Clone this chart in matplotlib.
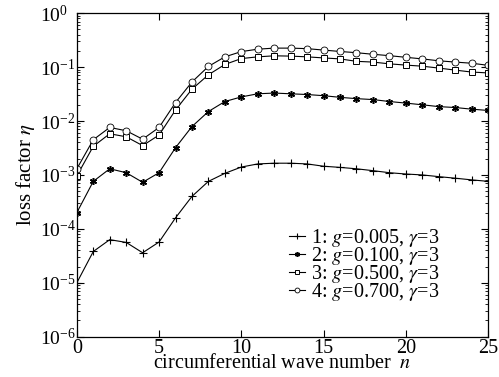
import numpy as np
import matplotlib
matplotlib.use('Agg')
import matplotlib.pyplot as plt
from matplotlib.ticker import LogLocator, NullFormatter, MultipleLocator

plt.rcParams['font.family'] = ['Liberation Serif', 'DejaVu Serif']
plt.rcParams['mathtext.fontset'] = 'stix'

# circumferential wave number
n = list(range(26))

# loss factor for each g (gamma = 3)
eta_g0005 = [1.0e-5, 3.8e-5, 6.3e-5, 5.6e-5, 3.6e-5, 5.7e-5, 1.6e-4, 4.0e-4, 7.6e-4, 1.07e-3,
             1.4e-3, 1.6e-3, 1.65e-3, 1.65e-3, 1.6e-3, 1.45e-3, 1.38e-3, 1.3e-3, 1.2e-3, 1.1e-3,
             1.04e-3, 1.0e-3, 9.3e-4, 8.7e-4, 8.1e-4, 7.6e-4]
eta_g0100 = [2.0e-4, 7.6e-4, 1.3e-3, 1.1e-3, 7.3e-4, 1.1e-3, 3.2e-3, 7.9e-3, 1.5e-2, 2.3e-2,
             2.8e-2, 3.2e-2, 3.3e-2, 3.2e-2, 3.1e-2, 2.95e-2, 2.75e-2, 2.6e-2, 2.5e-2, 2.3e-2,
             2.15e-2, 2.0e-2, 1.85e-2, 1.78e-2, 1.66e-2, 1.57e-2]
eta_g0500 = [9.6e-4, 3.4e-3, 5.8e-3, 5.1e-3, 3.5e-3, 5.5e-3, 1.6e-2, 3.9e-2, 7.2e-2, 0.112,
             0.144, 0.155, 0.162, 0.16, 0.155, 0.148, 0.142, 0.128, 0.124, 0.115,
             0.109, 0.104, 0.096, 0.088, 0.081, 0.078]
eta_g0700 = [1.3e-3, 4.5e-3, 7.6e-3, 6.6e-3, 4.6e-3, 7.6e-3, 2.2e-2, 5.3e-2, 0.103, 0.155,
             0.194, 0.215, 0.225, 0.225, 0.22, 0.207, 0.195, 0.185, 0.173, 0.163,
             0.152, 0.142, 0.131, 0.124, 0.118, 0.108]

labels = [r'1: $g$=0.005, $\gamma$=3',
          r'2: $g$=0.100, $\gamma$=3',
          r'3: $g$=0.500, $\gamma$=3',
          r'4: $g$=0.700, $\gamma$=3']

fig = plt.figure(figsize=(4.99, 3.77), dpi=100)
ax = fig.add_axes([0.154, 0.107, 0.824, 0.858])

ax.plot(n, eta_g0005, color='black', lw=0.8, marker='+', ms=6, mew=0.8, label=labels[0])
ax.plot(n, eta_g0100, color='black', lw=0.8, marker=(6, 2, 0), ms=5, mew=1.1, label=labels[1])
ax.plot(n, eta_g0500, color='black', lw=0.8, marker='s', ms=4.5, mew=0.7, mfc='white', label=labels[2])
ax.plot(n, eta_g0700, color='black', lw=0.8, marker='o', ms=5, mew=0.6, mfc='white', label=labels[3])

ax.set_yscale('log')
ax.set_ylim(1e-6, 1e0)
ax.set_xlim(0, 25)
ax.xaxis.set_major_locator(MultipleLocator(5))
ax.yaxis.set_major_locator(LogLocator(base=10, numticks=10))
ax.yaxis.set_minor_locator(LogLocator(base=10, subs=np.arange(2, 10), numticks=10))
ax.yaxis.set_minor_formatter(NullFormatter())
ax.tick_params(which='both', direction='in', top=True, right=True)
ax.tick_params(which='major', length=5, width=0.8)
ax.tick_params(which='minor', length=2.5, width=0.6)
ax.tick_params(axis='x', pad=1.5, labelsize=14.5)
ax.tick_params(axis='y', pad=26.5, labelsize=14)
for lab in ax.get_yticklabels():
    lab.set_horizontalalignment('left')
for s in ax.spines.values():
    s.set_linewidth(0.9)

ax.set_xlabel(r'circumferential wave number  $n$', fontsize=14.5, labelpad=-2.5)
ax.set_ylabel(r'loss factor $\eta$', fontsize=15, labelpad=2)

ax.legend(loc='lower right', bbox_to_anchor=(0.915, 0.06), frameon=False, fontsize=14.5,
          handlelength=0.8, handletextpad=0.3, labelspacing=-0.2, borderpad=0.2,
          markerscale=0.7)

fig.savefig('out.png', dpi=100)
